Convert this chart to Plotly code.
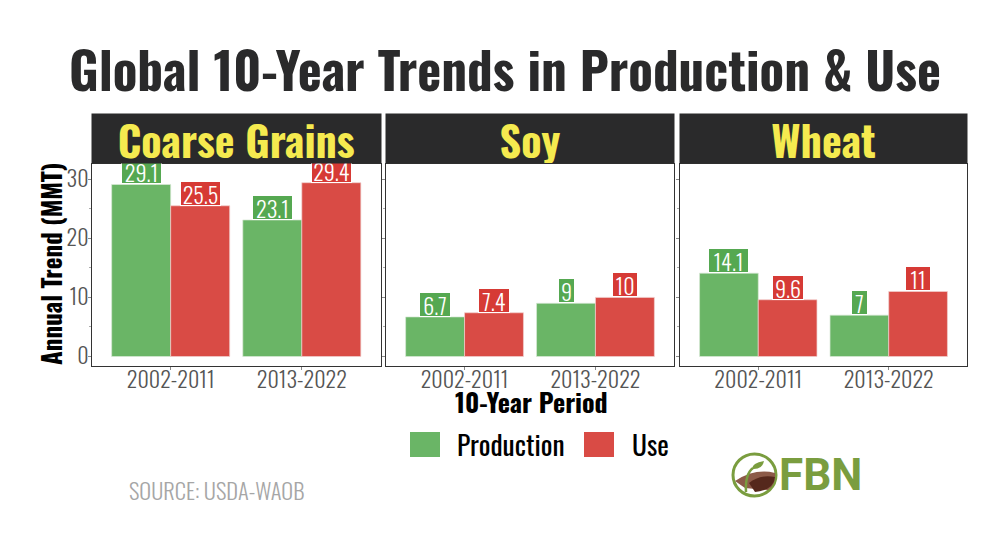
import plotly.graph_objects as go
from plotly.subplots import make_subplots

commodities = ["Coarse Grains", "Soy", "Wheat"]
periods = ["2002-2011", "2013-2022"]
production = [[29.1, 23.1], [6.7, 9], [14.1, 7]]
use = [[25.5, 29.4], [7.4, 10], [9.6, 11]]
y_ticks = [0, 10, 20, 30]

GREEN = "#6ab566"
RED = "#d94b45"
LABEL_GREEN = "#55a851"
LABEL_RED = "#d63a35"
DARK = "#2a2a2b"
GREY = "#555555"
LOGO = "#7a9d3f"
FONT = "Oswald"
W, H = 994, 536
PANELS = [(92, 380.5), (386, 674), (680, 967)]
TOP, BOTTOM = 163.5, 365.5


def px(x):
    return x / W


def py(y):
    return 1 - y / H


fig = make_subplots(rows=1, cols=3, shared_yaxes=True)

for i, name in enumerate(commodities):
    col = i + 1
    fig.add_trace(
        go.Bar(x=periods, y=production[i], name="Production", showlegend=False, offsetgroup="p",
               marker=dict(color=GREEN, line=dict(color="#d9e8d6", width=0.7))),
        row=1, col=col,
    )
    fig.add_trace(
        go.Bar(x=periods, y=use[i], name="Use", showlegend=False, offsetgroup="u",
               marker=dict(color=RED, line=dict(color="#f0d0ce", width=0.7))),
        row=1, col=col,
    )

    # value labels, offset half a bar from the category centre
    xref = "x" if i == 0 else f"x{col}"
    yref = "y" if i == 0 else f"y{col}"
    for series, color, shift in [(production[i], LABEL_GREEN, -0.225), (use[i], LABEL_RED, 0.225)]:
        for j, v in enumerate(series):
            fig.add_annotation(
                x=j + shift, y=v, xref=xref, yref=yref, text=f"{v:g}", showarrow=False, yanchor="bottom",
                font=dict(family=FONT, size=22, color="white", weight=300), bgcolor=color, bordercolor="white",
                borderwidth=1, borderpad=1, height=21, width=len(f"{v:g}") * 9 + 4 - (3 if "." in f"{v:g}" else 0),
            )

    # strip on top of the panel, added after the labels so it covers them
    x0, x1 = PANELS[i]
    fig.add_annotation(
        x=px((x0 + x1) / 2), y=py(138.5), xref="paper", yref="paper", text=f"<b>{name}</b>", showarrow=False,
        width=x1 - x0, height=49, bgcolor=DARK, font=dict(family=FONT, size=42, color="#f5ea4f"),
        xanchor="center", yanchor="middle", borderpad=0,
    )

    fig.update_xaxes(
        domain=[px(x0), px(x1)], showline=True, mirror=True, linecolor="#333333", linewidth=1, showgrid=False,
        ticks="outside", ticklen=3, tickcolor="#888888", range=[-0.6, 1.6], zeroline=False, automargin=False,
        ticklabelstandoff=-8, tickfont=dict(family=FONT, size=22, color=GREY, weight=350), row=1, col=col,
    )
    fig.update_yaxes(
        domain=[py(BOTTOM), py(TOP)], range=[-1.52, 32.65], tickvals=y_ticks, showline=True, mirror=True,
        linecolor="#333333", linewidth=1, showgrid=False, zeroline=False, ticks="outside", ticklen=3,
        tickcolor="#888888", showticklabels=i == 0, automargin=False, ticklabelstandoff=-5,
        minor=dict(dtick=5, ticks="outside", ticklen=2, tickcolor="#aaaaaa"),
        tickfont=dict(family=FONT, size=22, color=GREY, weight=350), row=1, col=col,
    )

fig.update_layout(
    width=W, height=H, barmode="group", bargap=0.1, bargroupgap=0, plot_bgcolor="white", paper_bgcolor="white",
    margin=dict(l=0, r=0, t=0, b=0), autosize=False,
)


def text(x, y, s, size, color, bold=False, angle=0, anchor="center", weight=None):
    fig.add_annotation(
        x=px(x), y=py(y), xref="paper", yref="paper", text=f"<b>{s}</b>" if bold else s, showarrow=False,
        textangle=angle, xanchor=anchor, yanchor="middle", font=dict(family=FONT, size=size, color=color, weight=weight),
    )


text(505, 68, "Global 10-Year Trends in Production &amp; Use", 51, DARK, bold=True)
text(50, 264, "Annual Trend (MMT)", 25, "black", bold=True, angle=-90)
text(531, 401, "10-Year Period", 26, "black", bold=True)
text(455, 443, "Production", 27.5, "black", anchor="left")
text(630, 443, "Use", 27.5, "black", anchor="left")
text(127, 490, "SOURCE: USDA-WAOB", 22.5, "#a6a6a6", anchor="left", weight=300)

# legend swatches
for x0, color in [(410, GREEN), (584, RED)]:
    fig.add_shape(type="rect", xref="paper", yref="paper", x0=px(x0), x1=px(x0 + 30), y0=py(457), y1=py(432),
                  fillcolor=color, line=dict(width=0))

# FBN logo, rough
fig.add_shape(type="circle", xref="paper", yref="paper", x0=px(733), x1=px(776), y0=py(496), y1=py(454),
              fillcolor="white", line=dict(color=LOGO, width=3))
fig.add_shape(type="path", xref="paper", yref="paper", line=dict(width=0), fillcolor="#8c5a48",
              path=f"M {px(735)} {py(481)} Q {px(755)} {py(468)} {px(775)} {py(473)} Q {px(776)} {py(485)} {px(768)} {py(490)} L {px(745)} {py(488)} Z")
fig.add_shape(type="path", xref="paper", yref="paper", line=dict(width=0), fillcolor="#55281c",
              path=f"M {px(749)} {py(483)} Q {px(760)} {py(474)} {px(775)} {py(477)} Q {px(774)} {py(490)} {px(755)} {py(492)} Z")
fig.add_shape(type="path", xref="paper", yref="paper", line=dict(color=LOGO, width=2.5),
              path=f"M {px(746)} {py(492)} Q {px(745)} {py(474)} {px(753)} {py(468)}")
fig.add_shape(type="path", xref="paper", yref="paper", line=dict(width=0), fillcolor=LOGO,
              path=f"M {px(752)} {py(469)} Q {px(752)} {py(463)} {px(764)} {py(461)} Q {px(762)} {py(470)} {px(752)} {py(469)} Z")
fig.add_annotation(x=px(820), y=py(475), xref="paper", yref="paper", text="<b>FBN</b>", showarrow=False,
                   xanchor="center", yanchor="middle", font=dict(family="Roboto", size=44, color=LOGO))

fig.write_html("out.html", post_script="document.body.style.margin = '0';", config={"displayModeBar": False})
